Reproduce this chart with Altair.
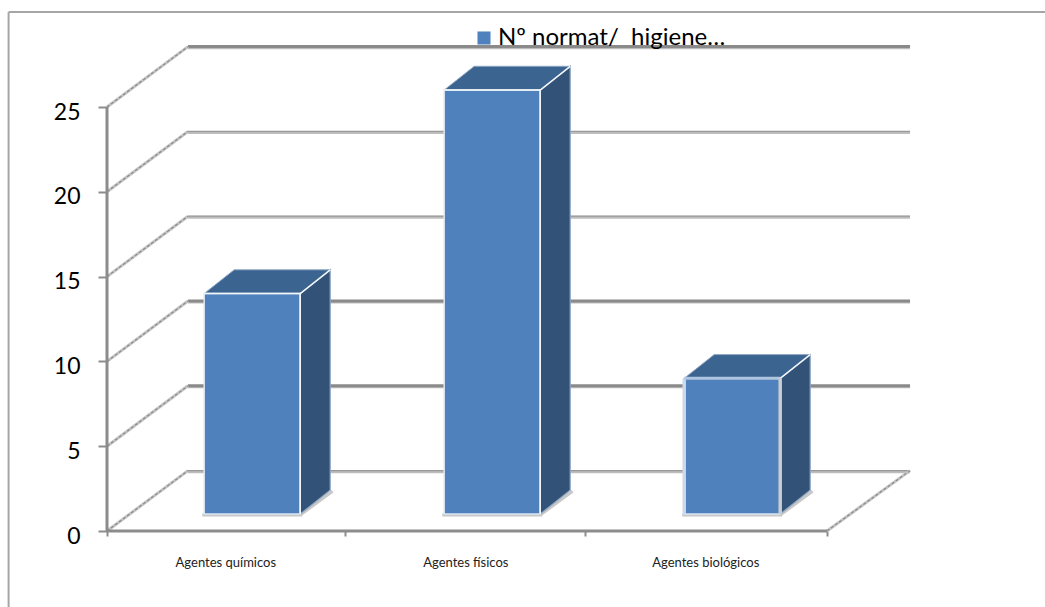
import altair as alt
import pandas as pd

# Values shown by the chart
categories = ["Agentes químicos", "Agentes físicos", "Agentes biológicos"]
values = [13, 25, 8]
series_name = "Nº normat/\u00a0 higiene…"
y_ticks = [0, 5, 10, 15, 20, 25]
x_ticks = [0, 0.992, 1.992, 3]

# Pseudo-3D projection, expressed in axis units
WALL_DX, WALL_DY = 0.3375, 3.56
FLOOR_RIGHT = 3.346
BAR_LEFT, BAR_WIDTH = 0.405, 0.4
BAR_BASE = 1.0
BAR_DX, BAR_DY = 0.125, 1.4
FRAME = dict(left=-0.41, right=3.92, top=30.6, bottom=-4.6)

FONT = "Lato"
BLUE, TOP_BLUE, SIDE_BLUE = "#4F81BD", "#3B6491", "#325278"
GRID_DARK, GRID_LIGHT = "#8A8A8A", "#BDBDBD"

x_scale = alt.Scale(domain=[0, 3], nice=False, zero=False)
y_scale = alt.Scale(domain=[0, 25], nice=False, zero=False)
x_axis = alt.Axis(
    values=x_ticks,
    labels=False,
    grid=False,
    domain=False,
    tickColor="#8C8C8C",
    tickSize=5,
    tickWidth=2,
    title=None,
)
y_axis = alt.Axis(
    values=y_ticks,
    grid=False,
    domain=False,
    tickColor="#8C8C8C",
    tickSize=9,
    tickWidth=2,
    labelFont=FONT,
    labelFontSize=23,
    labelColor="#000000",
    labelPadding=18,
    labelOffset=5,
    title=None,
)
X = lambda f: alt.X(f, type="quantitative", scale=x_scale, axis=x_axis)
Y = lambda f: alt.Y(f, type="quantitative", scale=y_scale, axis=y_axis)


def segs(rows):
    return pd.DataFrame(rows, columns=["x", "x2", "y", "y2"])


def rule(rows, color, width, **kw):
    return alt.Chart(segs(rows)).mark_rule(color=color, strokeWidth=width, **kw).encode(
        x=X("x"), x2="x2", y=Y("y"), y2="y2"
    )


# Outer chart frame
frame = rule(
    [
        [FRAME["left"], FRAME["right"], FRAME["top"], FRAME["top"]],
        [FRAME["left"], FRAME["left"], FRAME["top"], FRAME["bottom"]],
    ],
    "#A6A6A6",
    2,
)

# Back wall gridlines and the diagonals joining them to the value axis
back_rows = [[WALL_DX, FLOOR_RIGHT, v + WALL_DY, v + WALL_DY] for v in y_ticks]
back_shadow = rule([[a, b, c - 0.06, d - 0.06] for a, b, c, d in back_rows], GRID_LIGHT, 3)
back_dark = rule([r for r, v in zip(back_rows, y_ticks) if v in (5, 10, 25)], GRID_DARK, 3)
back_thin = rule([r for r, v in zip(back_rows, y_ticks) if v in (0, 15, 20)], "#999999", 1.2)

side_rows = [[0, WALL_DX, v, v + WALL_DY] for v in y_ticks]
side_rows.append([3.0, FLOOR_RIGHT, 0, WALL_DY])
side_light = rule(side_rows, "#C4C4C4", 3)
side_dark = rule(side_rows, "#8C8C8C", 1.2, strokeDash=[3, 2])

# Front axis lines
axis_rows = [[0, 0, 0, 25], [0, 3, 0, 0]]
front_axes = rule(axis_rows, "#8C8C8C", 3)

# Bar geometry derived from the values
fronts, tops, sides, shadows, edges = [], [], [], [], []
wide_left, wide_top, wide_right = [], [], []
for i, (cat, v) in enumerate(zip(categories, values)):
    l = i + BAR_LEFT
    r = l + BAR_WIDTH
    b = BAR_BASE
    t = BAR_BASE + v
    fronts.append(dict(cat=cat, x=l, x2=r, y=b, y2=t, serie=series_name))
    tops.append(dict(cat=cat, y=t, x=l, x2=r))
    tops.append(dict(cat=cat, y=t + BAR_DY, x=l + BAR_DX, x2=r + BAR_DX))
    sides.append(dict(cat=cat, x=r, y=b, y2=t))
    sides.append(dict(cat=cat, x=r + BAR_DX, y=b + BAR_DY, y2=t + BAR_DY))
    shadows.append([l - 0.008, r + 0.008, b - 0.06, b - 0.06])
    shadows.append([r, r + BAR_DX + 0.01, b - 0.06, b + BAR_DY - 0.06])
    edges.append([r, r + BAR_DX, t, t + BAR_DY])
    edges.append([l, r, t, t])
    edges.append([r, r, b, t])
    # The last bar carries a heavier pale outline
    if i == len(categories) - 1:
        wide_left.append([l, l, b, t])
        wide_top.append([l, r, t, t])
        wide_right.append([r, r, b, t])

shadow_layer = rule(shadows, "#C8C8C8", 3)

side_faces = alt.Chart(pd.DataFrame(sides)).mark_area(
    color=SIDE_BLUE, stroke="#8FA6C2", strokeWidth=1.2
).encode(x=X("x"), y=Y("y"), y2="y2", detail="cat:N")

top_faces = alt.Chart(pd.DataFrame(tops)).mark_area(
    color=TOP_BLUE, orient="horizontal", stroke="#8FA6C2", strokeWidth=1
).encode(y=Y("y"), x=X("x"), x2="x2", detail="cat:N")

front_faces = alt.Chart(pd.DataFrame(fronts)).mark_rect(stroke="#DCE6F2", strokeWidth=1.5).encode(
    x=X("x"),
    x2="x2",
    y=Y("y"),
    y2="y2",
    color=alt.Color(
        "serie:N",
        scale=alt.Scale(domain=[series_name], range=[BLUE]),
        legend=alt.Legend(
            title=None,
            orient="none",
            legendX=365,
            legendY=-81,
            symbolType="square",
            symbolSize=170,
            symbolStrokeWidth=0,
            labelFont=FONT,
            labelFontSize=24,
            labelColor="#000000",
            labelLimit=300,
            labelOffset=2,
            padding=0,
        ),
    ),
)

bar_edges = rule(edges, "#F2F6FA", 1.5)
bar_wide = (
    rule(wide_left, "#CCD9EA", 3.5)
    + rule(wide_top, "#AFC4DE", 3)
    + rule(wide_right, "#C9CDD2", 3.5)
)

# Category names sit below the axis, centred in each tick interval
label_df = pd.DataFrame(
    {"cat": categories, "x": [i + 0.495 for i in range(len(categories))], "y": [-1.9] * len(categories)}
)
category_labels = alt.Chart(label_df).mark_text(
    font=FONT, fontSize=13, color="#222222", baseline="middle"
).encode(x=X("x"), y=Y("y"), text="cat:N")

chart = (
    alt.layer(
        frame,
        back_shadow,
        back_thin,
        back_dark,
        side_light,
        side_dark,
        front_axes,
        shadow_layer,
        side_faces,
        top_faces,
        front_faces,
        bar_edges,
        bar_wide,
        category_labels,
    )
    .properties(
        width=720,
        height=424,
        padding={"left": 107, "top": 107, "right": 218, "bottom": 76},
        autosize=alt.AutoSizeParams(type="none", contains="content"),
        background="white",
    )
    .configure_view(stroke=None)
)

chart.save("out.html", embed_options={"renderer": "svg", "actions": False})
